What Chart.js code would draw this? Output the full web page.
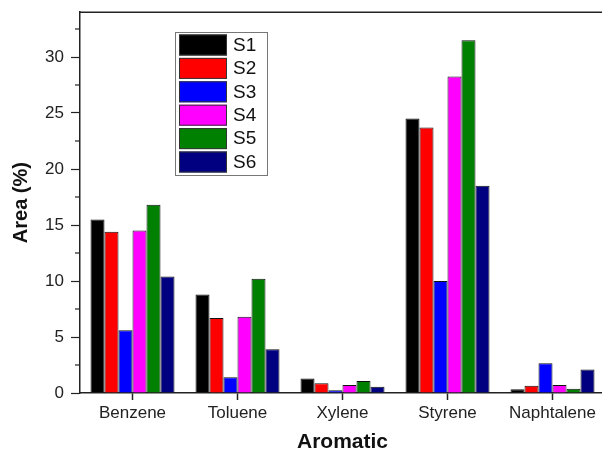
<!DOCTYPE html>
<html>
<head>
<meta charset="utf-8">
<script src="https://cdn.jsdelivr.net/npm/chart.js@4"></script>
<style>
html,body{margin:0;padding:0;overflow:hidden;background:#fff;}
#wrap{width:610px;height:455px;position:relative;overflow:hidden;}
#c{position:absolute;left:0;top:-5px;}
</style>
</head>
<body>
<div id="wrap"><canvas id="c" width="610" height="460"></canvas></div>
<script>
const categories = ["Benzene", "Toluene", "Xylene", "Styrene", "Naphtalene"];
const seriesNames = ["S1", "S2", "S3", "S4", "S5", "S6"];
const S1 = [15.5, 8.8, 1.3, 24.5, 0.33];
const S2 = [14.4, 6.7, 0.87, 23.7, 0.65];
const S3 = [5.6, 1.4, 0.25, 10.0, 2.65];
const S4 = [14.5, 6.8, 0.72, 28.25, 0.72];
const S5 = [16.8, 10.2, 1.07, 31.5, 0.38];
const S6 = [10.4, 3.9, 0.56, 18.5, 2.1];
const seriesColors = ["#000000", "#ff0000", "#0000ff", "#ff00ff", "#008000", "#000080"];
const yTicksMajor = [0, 5, 10, 15, 20, 25, 30];
const yMax = 34;

const seriesData = [S1, S2, S3, S4, S5, S6];

const extras = {
  id: 'extras',
  afterDraw(chart) {
    const ctx = chart.ctx;
    const a = chart.chartArea;
    const y = chart.scales.y;
    ctx.save();
    // top border
    ctx.strokeStyle = '#222';
    ctx.lineWidth = 1.5;
    ctx.beginPath();
    ctx.moveTo(a.left, a.top);
    ctx.lineTo(a.right + 10, a.top);
    ctx.stroke();
    // minor ticks
    ctx.lineWidth = 1.2;
    for (let i = 0; i < yTicksMajor.length; i++) {
      const v = yTicksMajor[i] + 2.5;
      if (v > yMax) break;
      const py = y.getPixelForValue(v);
      ctx.beginPath();
      ctx.moveTo(a.left - 5, py);
      ctx.lineTo(a.left, py);
      ctx.stroke();
    }
    // legend (canvas is shifted up 5px on the page)
    const lx = 175, ly = 37, lw = 92, lh = 143;
    ctx.strokeStyle = '#777';
    ctx.lineWidth = 1;
    ctx.strokeRect(lx + 0.5, ly + 0.5, lw, lh);
    ctx.font = '19px "Liberation Sans", Arial, sans-serif';
    ctx.textBaseline = 'middle';
    ctx.textAlign = 'left';
    chart.data.datasets.forEach((ds, i) => {
      const sy = ly + 2.5 + i * 23.4;
      ctx.fillStyle = ds.backgroundColor;
      ctx.fillRect(lx + 4, sy, 48, 21);
      ctx.strokeStyle = '#333';
      ctx.strokeRect(lx + 4.5, sy + 0.5, 47, 20);
      ctx.fillStyle = '#111';
      ctx.fillText(ds.label, lx + 58, sy + 11);
    });
    ctx.restore();
  }
};

new Chart(document.getElementById('c'), {
  type: 'bar',
  data: {
    labels: categories,
    datasets: seriesNames.map((n, i) => ({
      label: n,
      data: seriesData[i],
      backgroundColor: seriesColors[i],
      borderColor: '#111',
      borderWidth: 1,
      categoryPercentage: 0.8,
      barPercentage: 1.0
    }))
  },
  options: {
    responsive: false,
    animation: false,
    layout: { padding: { top: 7, right: 5, left: 9, bottom: 0 } },
    plugins: { legend: { display: false }, tooltip: { enabled: false } },
    scales: {
      x: {
        offset: true,
        grid: { display: true, drawOnChartArea: false, offset: false, tickLength: 7, tickColor: '#222', tickWidth: 1.5 },
        border: { display: true, color: '#222', width: 1.5 },
        ticks: { color: '#222', font: { size: 17, family: '"Liberation Sans", Arial, sans-serif' }, padding: 3, maxRotation: 0, autoSkip: false },
        title: { display: true, text: 'Aromatic', color: '#111', font: { size: 21, weight: 'bold', family: '"Liberation Sans", Arial, sans-serif' }, padding: { top: 4, bottom: 0 } },
        afterFit(s) { s.height = 62; }
      },
      y: {
        min: 0,
        max: yMax,
        afterBuildTicks(s) { s.ticks = yTicksMajor.map(v => ({ value: v })); },
        grid: { display: true, drawOnChartArea: false, tickLength: 9, tickColor: '#222', tickWidth: 1.2 },
        border: { display: true, color: '#222', width: 1.5 },
        ticks: { color: '#222', font: { size: 17, family: '"Liberation Sans", Arial, sans-serif' }, padding: 7 },
        title: { display: true, text: 'Area (%)', color: '#111', font: { size: 20, weight: 'bold', family: '"Liberation Sans", Arial, sans-serif' }, padding: { top: 0, bottom: 4 } },
        afterFit(s) { s.width = 71; }
      }
    }
  },
  plugins: [extras]
});
</script>
</body>
</html>
